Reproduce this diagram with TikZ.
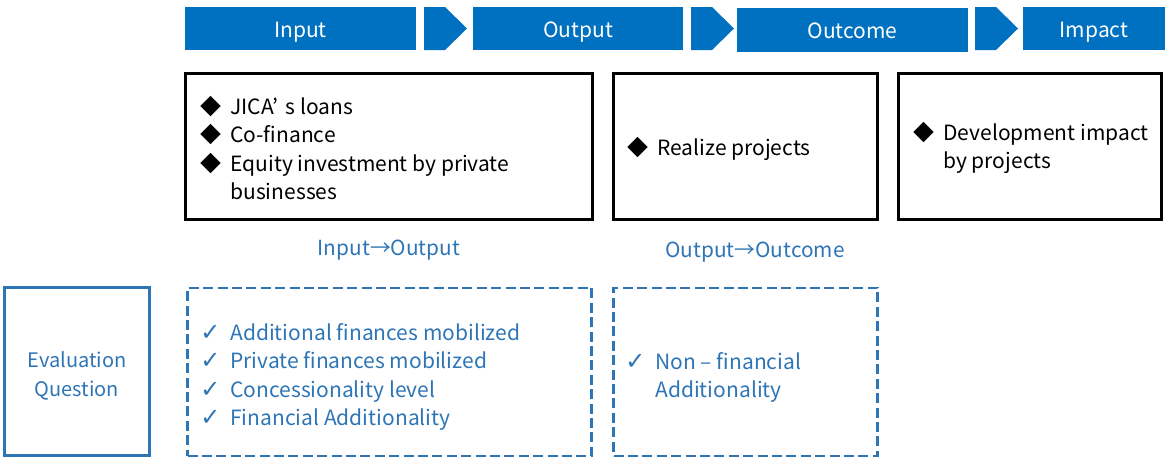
\documentclass[tikz,border=0pt]{standalone}
\usepackage{fontspec}
\setmainfont{Noto Sans CJK JP}
\newfontfamily\symfont{DejaVu Sans}
\definecolor{jicablue}{HTML}{0070C0}
\definecolor{qblue}{HTML}{2E75B6}
\newcommand{\bul}[1]{\makebox[15pt][l]{#1}}
\newcommand{\chk}{\bul{\symfont\fontsize{12}{12}\selectfont ✓}}

\begin{document}
\begin{tikzpicture}[x=0.5pt, y=-0.5pt,
  stage/.style={fill=jicablue, text=white, minimum height=21.5pt, inner sep=0pt,
    text height=8.7pt, text depth=0pt, font=\fontsize{10.5}{12}\selectfont},
  chevron/.style={fill=jicablue},
  resbox/.style={draw, line width=1.5pt, minimum height=73pt, inner sep=0pt},
  evalbox/.style={draw=qblue, line width=1.4pt, minimum height=84pt, inner sep=0pt},
  items/.style={anchor=west, align=left, inner sep=0pt, font=\fontsize{10.5}{14.3}\selectfont},
  qitems/.style={items, text=qblue},
  link/.style={text=qblue, font=\fontsize{10.4}{12}\selectfont}]

\useasboundingbox (0,0) rectangle (1165,462);

% stages
\node[stage, minimum width=115.5pt] (input)   at (300.5,28.5) {Input};
\node[stage, minimum width=105pt]   (output)  at (578,28.5)   {Output};
\node[stage, minimum width=115.5pt, minimum height=22pt] (outcome) at (852.5,30) {Outcome};
\node[stage, minimum width=71pt]    (impact)  at (1094,28.5)  {Impact};

% chevrons between stages
\foreach \x in {424,691,975}
  \fill[chevron] (\x,7) -- ++(21,0) -- ++(22,21.5) -- ++(-22,21.5) -- ++(-21,0) -- cycle;

% results
\node[resbox, minimum width=203.5pt] (inbox)  at (389,146.5)  {};
\node[resbox, minimum width=132pt]   (outbox) at (745.5,146.5) {};
\node[resbox, minimum width=131.5pt] (impbox) at (1030,146.5)  {};

\node[items] (intext) at (200,148) {\bul{◆}JICA’\hspace{0.35em}s loans\\ \bul{◆}Co-finance\\
  \bul{◆}Equity investment by private\\ \bul{}businesses};
\node[items] (outtext) at (627,149) {\bul{◆}Realize projects};
\node[items] (imptext) at (913,148) {\bul{◆}Development impact\\ \bul{}by projects};

\node[link] (io) at (389,250) {Input→Output};
\node[link] (oo) at (755,252) {Output→Outcome};

% evaluation questions
\node[evalbox, line width=1.5pt, minimum width=72.5pt] (evalq) at (77,371.5) {};
\node[text=qblue, align=center, font=\fontsize{10}{14.3}\selectfont] (evaltext) at (77,376) {Evaluation\\Question};
\node[evalbox, dashed, dash pattern=on 5pt off 2.2pt, minimum width=202pt] (qin)  at (389.5,372) {};
\node[evalbox, dashed, dash pattern=on 5pt off 2.2pt, minimum width=132pt] (qout) at (745.5,372) {};

\node[qitems] (qintext) at (200,377) {\chk Additional finances mobilized\\ \chk Private finances mobilized\\
  \chk Concessionality level\\ \chk Financial Additionality};
\node[qitems] (qouttext) at (625,377.5) {\chk Non – financial\\ \bul{}Additionality};

\end{tikzpicture}
\end{document}
